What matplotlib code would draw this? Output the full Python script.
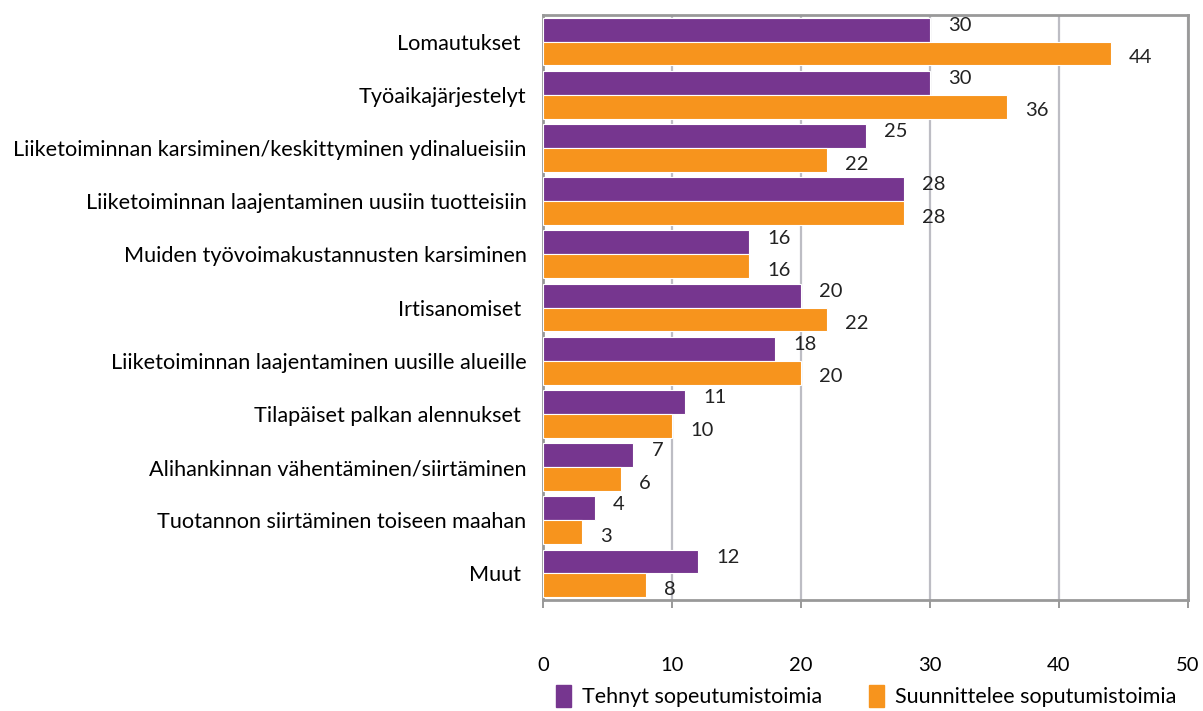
import matplotlib
matplotlib.use("Agg")
import matplotlib.pyplot as plt
import numpy as np
from matplotlib.patches import Patch

categories = ["Lomautukset ", "Työaikajärjestelyt", "Liiketoiminnan karsiminen/keskittyminen ydinalueisiin",
              "Liiketoiminnan laajentaminen uusiin tuotteisiin", "Muiden työvoimakustannusten karsiminen",
              "Irtisanomiset ", "Liiketoiminnan laajentaminen uusille alueille", "Tilapäiset palkan alennukset ",
              "Alihankinnan vähentäminen/siirtäminen", "Tuotannon siirtäminen toiseen maahan", "Muut "]
tehnyt = [30, 30, 25, 28, 16, 20, 18, 11, 7, 4, 12]
suunnittelee = [44, 36, 22, 28, 16, 22, 20, 10, 6, 3, 8]
series_names = ["Tehnyt sopeutumistoimia", "Suunnittelee soputumistoimia"]

purple = "#76368F"
orange = "#F7941D"

plt.rcParams['font.family'] = ['Lato', 'DejaVu Sans']

fig = plt.figure(figsize=(12.03, 7.11), dpi=100)
ax = fig.add_axes([0.4515, 0.156, 0.536, 0.823])

y = np.arange(len(categories))
h = 0.45
ax.barh(y - h/2, tehnyt, height=h, color=purple, edgecolor="white", linewidth=0.8, zorder=3)
ax.barh(y + h/2, suunnittelee, height=h, color=orange, edgecolor="white", linewidth=0.8, zorder=3)

for i in range(len(categories)):
    ax.annotate(str(tehnyt[i]), (tehnyt[i], y[i] - h/2), xytext=(13, 3), textcoords="offset points",
                ha="left", va="center", fontsize=14.5, color="#222222")
    ax.annotate(str(suunnittelee[i]), (suunnittelee[i], y[i] + h/2), xytext=(13, -3), textcoords="offset points",
                ha="left", va="center", fontsize=14.5, color="#222222")

ax.set_xlim(0, 50)
ax.set_ylim(len(categories) - 0.5, -0.5)
ax.set_xticks([0, 10, 20, 30, 40, 50])
ax.set_yticks(y)
ax.set_yticklabels(categories, fontsize=15.6)
ax.tick_params(axis='y', length=0, pad=12)
ax.tick_params(axis='x', length=6, width=1.2, color="#888888", labelsize=14.5, pad=35)
ax.grid(axis='x', color="#BDBDC4", linewidth=1.6, zorder=0)
for s in ax.spines.values():
    s.set_color("#999999")
    s.set_linewidth(2)

handles = [Patch(color=purple), Patch(color=orange)]
fig.legend(handles, series_names, loc="lower left", bbox_to_anchor=(0.446, -0.022), ncol=2, frameon=False,
           fontsize=15.5, handlelength=0.7, handleheight=1.2, columnspacing=2.2, handletextpad=0.5)

fig.savefig("out.png", dpi=100)
